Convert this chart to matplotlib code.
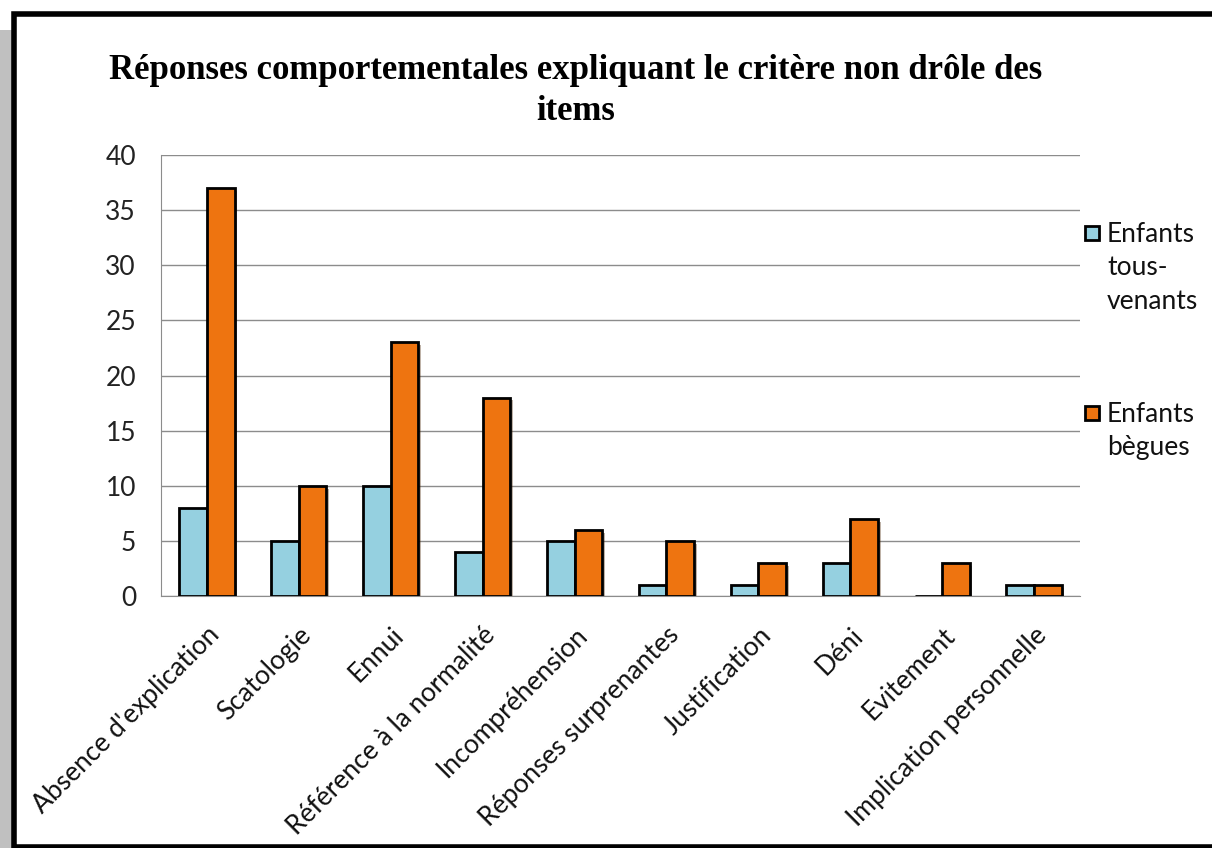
import matplotlib.pyplot as plt
import matplotlib.patheffects as pe
import matplotlib.transforms as mtransforms
from matplotlib.patches import Rectangle
import numpy as np

categories = ["Absence d'explication", "Scatologie", "Ennui", "Référence à la normalité",
              "Incompréhension", "Réponses surprenantes", "Justification", "Déni",
              "Evitement", "Implication personnelle"]
tous_venants = [8, 5, 10, 4, 5, 1, 1, 3, 0, 1]
begues = [37, 10, 23, 18, 6, 5, 3, 7, 3, 1]
y_ticks = [0, 5, 10, 15, 20, 25, 30, 35, 40]
series_names = ["Enfants\ntous-\nvenants", "Enfants\nbègues"]

blue = '#95D0E0'
orange = '#EE7410'
sans = ['Lato', 'DejaVu Sans']
fs = 19

fig = plt.figure(figsize=(12.12, 8.48), dpi=100)

# gray strip and black frame around the chart
fig.patches.append(Rectangle((0, 0), 12 / 1212, 1 - 30 / 848, transform=fig.transFigure,
                             facecolor='#C0C0C0', edgecolor='none', zorder=-3))
fig.patches.append(Rectangle((14 / 1212, 1 / 848), 1.2, 1 - 15 / 848, transform=fig.transFigure,
                             facecolor='white', edgecolor='black', lw=4, zorder=-2))

ax = fig.add_axes([161 / 1212, 1 - 596 / 848, (1080 - 161) / 1212, (596 - 155) / 848])
ax.set_zorder(2)
ax.patch.set_alpha(0)
x = np.arange(len(categories))
w = 0.3
shadow = [pe.SimplePatchShadow(offset=(2, -2), alpha=0.35), pe.Normal()]
b1 = ax.bar(x - w / 2, tous_venants, w, color=blue, edgecolor='black', lw=2,
            path_effects=shadow, zorder=3)
b2 = ax.bar(x + w / 2, begues, w, color=orange, edgecolor='black', lw=2,
            path_effects=shadow, zorder=3)

ax.set_xlim(-0.5, len(categories) - 0.5)
ax.set_ylim(0, 40)
ax.set_yticks(y_ticks)
ax.set_yticklabels([str(v) for v in y_ticks], fontsize=fs, family=sans, color='#222222')
ax.set_xticks(x)
ax.set_xticklabels(categories, rotation=45, ha='right', rotation_mode='anchor',
                   fontsize=fs, family=sans, color='#111111')
shift = mtransforms.ScaledTranslation(5 / 100, 0, fig.dpi_scale_trans)
for lab in ax.get_xticklabels():
    lab.set_transform(lab.get_transform() + shift)
ax.tick_params(axis='x', length=0, pad=19)
ax.tick_params(axis='y', length=0, pad=18)
ax.grid(axis='y', color='#8C8C8C', lw=1, zorder=0)
for s in ['top', 'right']:
    ax.spines[s].set_visible(False)
for s in ['left', 'bottom']:
    ax.spines[s].set_color('#8C8C8C')

fig.text(0.475, 1 - 91 / 848, "Réponses comportementales expliquant le critère non drôle des\nitems",
         ha='center', va='center', fontsize=25, family='Liberation Serif', weight='bold',
         linespacing=1.3)

# legend, handles aligned with the first line of each label
for name, col, ytop in zip(series_names, [blue, orange], [226, 406]):
    fig.patches.append(Rectangle((1085 / 1212, 1 - (ytop + 14) / 848), 14 / 1212, 14 / 848,
                                 transform=fig.transFigure, facecolor=col,
                                 edgecolor='black', lw=2, zorder=5))
    fig.text(1107 / 1212, 1 - (ytop - 4) / 848, name, ha='left', va='top',
             fontsize=fs, family=sans, color='#111111', linespacing=1.42)

fig.savefig('out.png', dpi=100)
